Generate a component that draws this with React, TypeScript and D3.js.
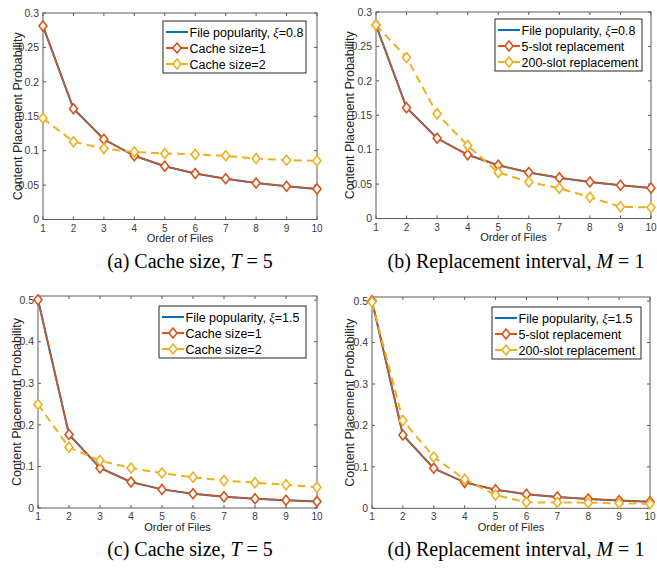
import React from "react";
import * as d3 from "d3";

// ---------- data ----------
const files = [1, 2, 3, 4, 5, 6, 7, 8, 9, 10];
const xTicks = [1, 2, 3, 4, 5, 6, 7, 8, 9, 10];
const yTicksTop = [0, 0.05, 0.1, 0.15, 0.2, 0.25, 0.3];
const yTicksBottom = [0, 0.1, 0.2, 0.3, 0.4, 0.5];

// xi = 0.8
const popularityA = [0.281, 0.161, 0.1165, 0.0926, 0.0774, 0.0668, 0.0591, 0.053, 0.0482, 0.0443];
const cacheOneA = [0.281, 0.161, 0.1165, 0.0926, 0.0774, 0.0668, 0.0591, 0.053, 0.0482, 0.0443];
const cacheTwoA = [0.147, 0.113, 0.103, 0.098, 0.096, 0.0945, 0.0925, 0.0885, 0.0862, 0.0853];
const slotFiveB = [0.281, 0.161, 0.1165, 0.0926, 0.0774, 0.0668, 0.0591, 0.053, 0.0482, 0.0443];
const slotTwoHundredB = [0.281, 0.234, 0.152, 0.106, 0.067, 0.053, 0.044, 0.031, 0.017, 0.016];

// xi = 1.5
const popularityC = [0.501, 0.177, 0.0965, 0.0626, 0.0448, 0.0341, 0.0271, 0.0222, 0.0186, 0.0159];
const cacheOneC = [0.501, 0.177, 0.0965, 0.0626, 0.0448, 0.0341, 0.0271, 0.0222, 0.0186, 0.0159];
const cacheTwoC = [0.249, 0.146, 0.114, 0.096, 0.084, 0.074, 0.066, 0.061, 0.056, 0.05];
const slotFiveD = [0.501, 0.177, 0.0965, 0.0626, 0.0448, 0.0341, 0.0271, 0.0222, 0.0186, 0.0159];
const slotTwoHundredD = [0.498, 0.212, 0.124, 0.07, 0.032, 0.0144, 0.014, 0.0136, 0.012, 0.011];

const legendCache = ["Cache size=1", "Cache size=2"];
const legendSlot = ["5-slot replacement", "200-slot replacement"];

// ---------- style ----------
const BLUE = "#0072BD";
const ORANGE = "#D95319";
const YELLOW = "#EDB120";
const AXIS = "#5a5a5a";
const SANS = "'Liberation Sans', Arial, Helvetica, sans-serif";
const SERIF = "'Liberation Serif', 'Times New Roman', serif";

type PanelProps = {
  x0: number; x1: number; y0: number; y1: number;
  ymax: number; yTicks: number[]; fmt: (v: number) => string;
  pop: number[]; s1: number[]; s2: number[];
  xi: string; names: string[];
  leg: { x: number; y: number; w: number };
  ylabX: number;
  caption: { x: number; y: number; lead: string; sym: string; val: string };
};

function Diamond({ x, y, color }: { x: number; y: number; color: string }) {
  const w = 4, h = 5;
  return (
    <path
      d={`M${x},${y - h}L${x + w},${y}L${x},${y + h}L${x - w},${y}Z`}
      fill="#fff"
      stroke={color}
      strokeWidth={1.6}
    />
  );
}

function Panel(p: PanelProps) {
  const xs = d3.scaleLinear().domain([1, 10]).range([p.x0, p.x1]);
  const ys = d3.scaleLinear().domain([0, p.ymax]).range([p.y1, p.y0]);
  const line = d3
    .line<number>()
    .x((_, i) => xs(files[i]))
    .y((d) => ys(d));
  const tl = 3;
  const rowH = 16;
  const legH = rowH * 3 + 4;
  return (
    <g>
      {/* axes box */}
      <rect x={p.x0} y={p.y0} width={p.x1 - p.x0} height={p.y1 - p.y0} fill="#fff" stroke={AXIS} strokeWidth={1} />
      {xTicks.map((t) => (
        <g key={"xt" + t}>
          <line x1={xs(t)} x2={xs(t)} y1={p.y1} y2={p.y1 - tl} stroke={AXIS} />
          <line x1={xs(t)} x2={xs(t)} y1={p.y0} y2={p.y0 + tl} stroke={AXIS} />
          <text x={xs(t)} y={p.y1 + 12} textAnchor="middle" fontSize={10} fill="#3a3a3a" fontFamily={SANS}>
            {t}
          </text>
        </g>
      ))}
      {p.yTicks.map((t) => (
        <g key={"yt" + t}>
          <line x1={p.x0} x2={p.x0 + tl} y1={ys(t)} y2={ys(t)} stroke={AXIS} />
          <line x1={p.x1} x2={p.x1 - tl} y1={ys(t)} y2={ys(t)} stroke={AXIS} />
          <text x={p.x0 - 4} y={ys(t) + 3.7} textAnchor="end" fontSize={10.5} fill="#3a3a3a" fontFamily={SANS}>
            {p.fmt(t)}
          </text>
        </g>
      ))}
      {/* labels */}
      <text
        transform={`translate(${p.ylabX},${(p.y0 + p.y1) / 2}) rotate(-90)`}
        textAnchor="middle"
        fontSize={12.5}
        fill="#262626"
        fontFamily={SANS}
      >
        Content Placement Probability
      </text>
      <text x={(p.x0 + p.x1) / 2} y={p.y1 + 22.5} textAnchor="middle" fontSize={11} fill="#262626" fontFamily={SANS}>
        Order of Files
      </text>
      {/* series */}
      <path d={line(p.pop) || ""} fill="none" stroke={BLUE} strokeWidth={2} />
      <path d={line(p.s1) || ""} fill="none" stroke={ORANGE} strokeWidth={1.5} />
      <path d={line(p.s2) || ""} fill="none" stroke={YELLOW} strokeWidth={2} strokeDasharray="8,5" />
      {p.s1.map((v, i) => (
        <Diamond key={"a" + i} x={xs(files[i])} y={ys(v)} color={ORANGE} />
      ))}
      {p.s2.map((v, i) => (
        <Diamond key={"b" + i} x={xs(files[i])} y={ys(v)} color={YELLOW} />
      ))}
      {/* legend */}
      <g transform={`translate(${p.leg.x},${p.leg.y})`}>
        <rect x={0} y={0} width={p.leg.w} height={legH} fill="#fff" stroke="#262626" strokeWidth={1} />
        {[0, 1, 2].map((r) => {
          const cy = 11 + r * rowH;
          const col = [BLUE, ORANGE, YELLOW][r];
          return (
            <g key={"l" + r}>
              <line x1={3} x2={25} y1={cy} y2={cy} stroke={col} strokeWidth={2} />
              {r > 0 && <Diamond x={14} y={cy} color={col} />}
              <text x={26.5} y={cy + 4.5} fontSize={12.5} fill="#000" fontFamily={SANS}>
                {r === 0 ? (
                  <>
                    File popularity,{" "}
                    <tspan fontFamily={SERIF} fontStyle="italic">ξ</tspan>=
                    {p.xi}
                  </>
                ) : (
                  p.names[r - 1]
                )}
              </text>
            </g>
          );
        })}
      </g>
      {/* caption */}
      <text x={p.caption.x} y={p.caption.y} textAnchor="middle" fontSize={20} fill="#000" fontFamily={SERIF}>
        {p.caption.lead}
        <tspan fontStyle="italic">{p.caption.sym}</tspan>
        {" = "}
        {p.caption.val}
      </text>
    </g>
  );
}

export default function App() {
  const fmtTop = (v: number) => (v === 0 ? "0" : d3.format("")(+v.toFixed(2)));
  const fmtBot = (v: number) => (v === 0 ? "0" : d3.format("")(+v.toFixed(1)));
  return (
    <svg
      width={657}
      height={569}
      viewBox="0 0 657 569"
      style={{ position: "absolute", left: 0, top: 0, background: "#fff" }}
    >
      <rect width={657} height={569} fill="#fff" />
      <Panel
        x0={43} x1={317} y0={13} y1={219.5}
        ymax={0.3} yTicks={yTicksTop} fmt={fmtTop}
        pop={popularityA} s1={cacheOneA} s2={cacheTwoA}
        xi="0.8" names={legendCache}
        leg={{ x: 163, y: 21, w: 143 }}
        ylabX={22}
        caption={{ x: 190, y: 268, lead: "(a) Cache size, ", sym: "T", val: "5" }}
      />
      <Panel
        x0={376} x1={651} y0={12} y1={218.5}
        ymax={0.3} yTicks={yTicksTop} fmt={fmtTop}
        pop={popularityA} s1={slotFiveB} s2={slotTwoHundredB}
        xi="0.8" names={legendSlot}
        leg={{ x: 495, y: 19, w: 147 }}
        ylabX={354}
        caption={{ x: 516, y: 268, lead: "(b) Replacement interval, ", sym: "M", val: "1" }}
      />
      <Panel
        x0={38} x1={317} y0={296} y1={508}
        ymax={0.51} yTicks={yTicksBottom} fmt={fmtBot}
        pop={popularityC} s1={cacheOneC} s2={cacheTwoC}
        xi="1.5" names={legendCache}
        leg={{ x: 159, y: 306, w: 147 }}
        ylabX={21}
        caption={{ x: 190, y: 556, lead: "(c) Cache size, ", sym: "T", val: "5" }}
      />
      <Panel
        x0={372} x1={650} y0={297} y1={508.3}
        ymax={0.51} yTicks={yTicksBottom} fmt={fmtBot}
        pop={popularityC} s1={slotFiveD} s2={slotTwoHundredD}
        xi="1.5" names={legendSlot}
        leg={{ x: 492, y: 307, w: 149 }}
        ylabX={354}
        caption={{ x: 516, y: 556, lead: "(d) Replacement interval, ", sym: "M", val: "1" }}
      />
    </svg>
  );
}
